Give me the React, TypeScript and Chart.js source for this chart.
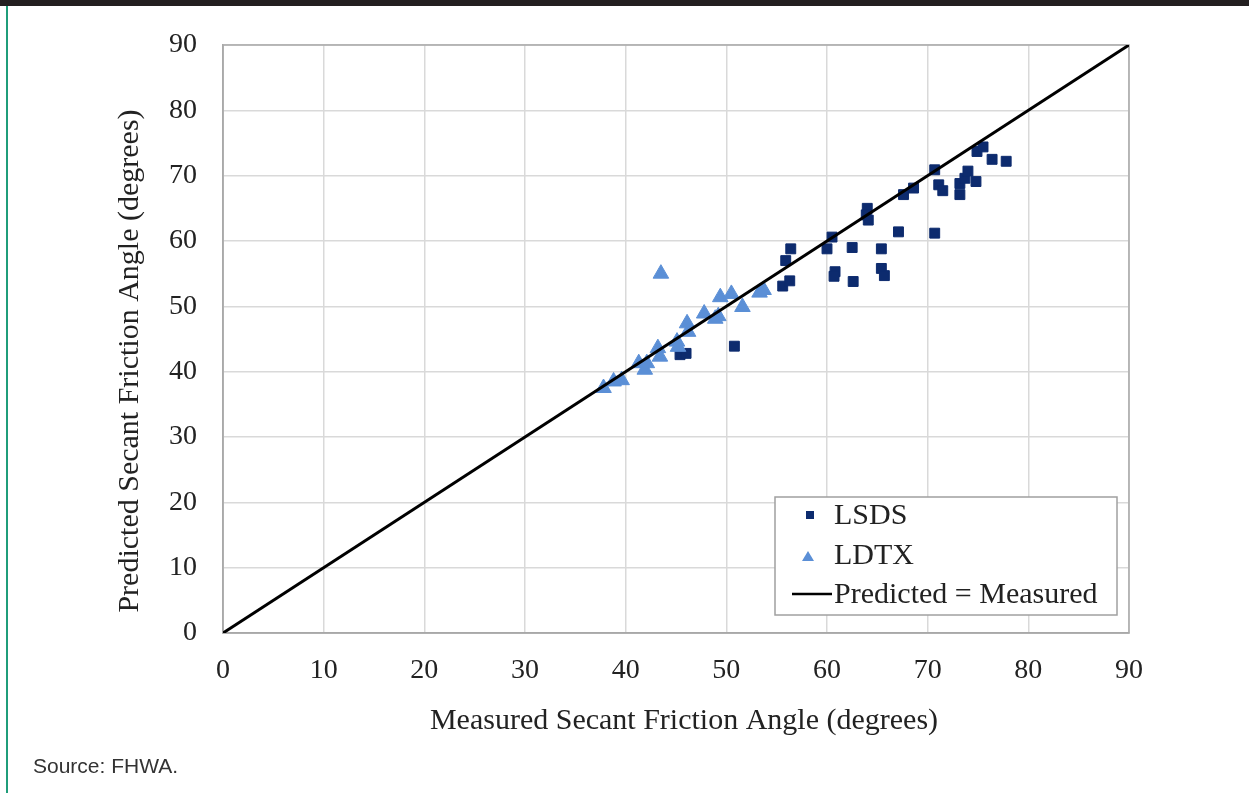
import React, { useEffect, useRef } from 'react';
import { Chart, registerables } from 'chart.js';

Chart.register(...registerables);

// ---- Data ----
const lsdsX = [45.4, 46.0, 50.8, 55.6, 56.3, 55.9, 56.4, 60.0, 60.5, 60.8, 60.7, 62.5, 62.6, 65.4, 65.4, 65.7, 67.1, 70.7, 64.0, 63.9, 64.1, 67.6, 68.6, 70.7, 71.1, 71.5, 73.2, 73.2, 73.7, 74.0, 74.8, 74.9, 75.5, 76.4, 77.8];
const lsdsY = [42.6, 42.8, 43.9, 53.1, 53.9, 57.0, 58.8, 58.8, 60.6, 55.3, 54.6, 59.0, 53.8, 58.8, 55.8, 54.7, 61.4, 61.2, 65.0, 64.0, 63.2, 67.1, 68.1, 70.9, 68.6, 67.7, 68.8, 67.1, 69.6, 70.7, 69.1, 73.7, 74.4, 72.5, 72.2];

const ldtxX = [37.8, 38.8, 39.6, 41.3, 41.9, 42.1, 43.2, 43.4, 43.5, 45.1, 45.2, 46.1, 46.2, 47.8, 48.9, 49.2, 49.4, 50.5, 51.6, 53.3, 53.7];
const ldtxY = [37.5, 38.5, 38.7, 41.3, 40.3, 41.3, 43.6, 42.3, 55.0, 44.6, 43.8, 47.4, 46.1, 48.9, 48.1, 48.5, 51.4, 51.9, 49.9, 52.1, 52.5];

const lineX = [0, 90];
const lineY = [0, 90];

const axisMin = 0;
const axisMax = 90;
const tickStep = 10;

const seriesNames = ['LSDS', 'LDTX', 'Predicted = Measured'];
const xTitle = 'Measured Secant Friction Angle (degrees)';
const yTitle = 'Predicted Secant Friction Angle (degrees)';
const sourceText = 'Source: FHWA.';

// ---- Styles ----
const SERIF = '"Liberation Serif", "Times New Roman", serif';
const TEXT = '#222222';
const NAVY = '#0d2b6e';
const LIGHT = '#5b8fd6';

const toPoints = (xs: number[], ys: number[]) => xs.map((x, i) => ({ x, y: ys[i] }));

const frameAndLegend = {
  id: 'frameAndLegend',
  beforeDatasetsDraw(chart: any) {
    const { ctx, chartArea } = chart;
    ctx.save();
    ctx.strokeStyle = '#a9a9a9';
    ctx.lineWidth = 1.5;
    ctx.strokeRect(chartArea.left, chartArea.top, chartArea.right - chartArea.left, chartArea.bottom - chartArea.top);
    ctx.restore();
  },
  afterDraw(chart: any) {
    const { ctx } = chart;
    ctx.save();
    // axis titles
    ctx.fillStyle = TEXT;
    ctx.font = `30px ${SERIF}`;
    ctx.textAlign = 'center';
    ctx.textBaseline = 'middle';
    ctx.fillText(xTitle, 684, 721);
    ctx.save();
    ctx.translate(130, 361);
    ctx.rotate(-Math.PI / 2);
    ctx.fillText(yTitle, 0, 0);
    ctx.restore();

    // legend box
    const bx = 775, by = 497, bw = 342, bh = 118;
    ctx.fillStyle = '#ffffff';
    ctx.fillRect(bx, by, bw, bh);
    ctx.strokeStyle = '#a0a0a0';
    ctx.lineWidth = 1.5;
    ctx.strokeRect(bx, by, bw, bh);
    // square
    ctx.fillStyle = NAVY;
    ctx.fillRect(806, 511, 8, 8);
    // triangle
    ctx.fillStyle = LIGHT;
    ctx.beginPath();
    ctx.moveTo(808, 551);
    ctx.lineTo(814, 561);
    ctx.lineTo(802, 561);
    ctx.closePath();
    ctx.fill();
    // line
    ctx.strokeStyle = '#000000';
    ctx.lineWidth = 2.5;
    ctx.beginPath();
    ctx.moveTo(792, 594);
    ctx.lineTo(832, 594);
    ctx.stroke();
    // text
    ctx.fillStyle = TEXT;
    ctx.font = `30px ${SERIF}`;
    ctx.textBaseline = 'middle';
    ctx.textAlign = 'left';
    ctx.fillText(seriesNames[0], 834, 516);
    ctx.fillText(seriesNames[1], 834, 556);
    ctx.fillText(seriesNames[2], 834, 595);
    ctx.restore();
  },
};

export default function App() {
  const canvasRef = useRef<HTMLCanvasElement | null>(null);

  useEffect(() => {
    if (!canvasRef.current) return;
    const chart = new Chart(canvasRef.current, {
      type: 'scatter',
      data: {
        datasets: [
          {
            label: seriesNames[2],
            data: toPoints(lineX, lineY),
            showLine: true,
            borderColor: '#000000',
            borderWidth: 3,
            pointRadius: 0,
            order: 0,
          } as any,
          {
            label: seriesNames[0],
            data: toPoints(lsdsX, lsdsY),
            pointStyle: 'rect',
            pointRadius: 7,
            backgroundColor: NAVY,
            borderColor: NAVY,
            borderWidth: 1,
            order: 2,
          },
          {
            label: seriesNames[1],
            data: toPoints(ldtxX, ldtxY),
            pointStyle: 'triangle',
            pointRadius: 9,
            backgroundColor: LIGHT,
            borderColor: LIGHT,
            borderWidth: 1,
            order: 1,
          },
        ],
      },
      options: {
        responsive: false,
        animation: false,
        layout: { padding: { left: 0, top: 45, right: 120, bottom: 0 } },
        plugins: {
          legend: { display: false },
          tooltip: { enabled: false },
        },
        scales: {
          x: {
            type: 'linear',
            min: axisMin,
            max: axisMax,
            afterFit: (s: any) => { s.height = 160; },
            ticks: {
              stepSize: tickStep,
              padding: 21,
              color: TEXT,
              font: { family: SERIF, size: 28 },
            },
            grid: { color: '#d9d9d9', lineWidth: 1.5, drawTicks: false },
            border: { color: '#a9a9a9', width: 1.5 },
            title: { display: false },
          },
          y: {
            type: 'linear',
            min: axisMin,
            max: axisMax,
            afterFit: (s: any) => { s.width = 223; },
            ticks: {
              stepSize: tickStep,
              padding: 26,
              color: TEXT,
              font: { family: SERIF, size: 28 },
            },
            grid: { color: '#d9d9d9', lineWidth: 1.5, drawTicks: false },
            border: { color: '#a9a9a9', width: 1.5 },
            title: { display: false },
          },
        },
      },
      plugins: [frameAndLegend],
    });
    return () => chart.destroy();
  }, []);

  return (
    <div style={{ position: 'absolute', left: 0, top: 0, width: 1249, height: 793, background: '#ffffff', overflow: 'hidden' }}>
      <canvas ref={canvasRef} width={1249} height={793} style={{ position: 'absolute', left: 0, top: 0, width: 1249, height: 793 }} />
      <div style={{ position: 'absolute', left: 0, top: 0, width: 1249, height: 6, background: '#231f20' }} />
      <div style={{ position: 'absolute', left: 6, top: 6, width: 2, height: 787, background: '#1f9d7a' }} />
      <div style={{ position: 'absolute', left: 33, top: 752, fontFamily: '"Liberation Sans", Arial, sans-serif', fontSize: 21, color: '#333333', lineHeight: '28px', whiteSpace: 'nowrap' }}>
        {sourceText}
      </div>
    </div>
  );
}
